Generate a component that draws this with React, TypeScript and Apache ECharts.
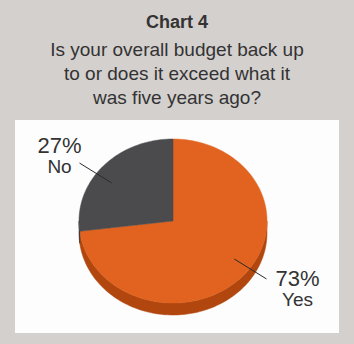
import React, { useEffect, useRef } from "react";
import * as echarts from "echarts";

// ---- data ----
const categories: string[] = ["Yes", "No"];
const values: number[] = [73, 27];
const percentLabels: string[] = ["73%", "27%"];
const titleText = "Chart 4";
const questionLines: string[] = [
  "Is your overall budget back up",
  "to or does it exceed what it",
  "was five years ago?",
];

// ---- styles ----
const topColors = ["#e1631f", "#4b4b4d"];
const sideColors = ["#b1470f", "#2f2f30"];
const BG = "#d3d0ce";
const TEXT = "#333333";
const FONT = '"Liberation Sans", Arial, sans-serif';

// geometry
const CX = 173;
const CY = 221;
const RX = 94;
const RY = 82;
const DEPTH = 12;
const START = 90;
const LABEL_ROT = 6;

const rad = (d: number) => (d * Math.PI) / 180;
const pt = (a: number, r: number, dy = 0): number[] => [
  CX + r * RX * Math.cos(rad(a)),
  CY - r * RY * Math.sin(rad(a)) + dy,
];

const arcPoints = (from: number, to: number, dy = 0): number[][] => {
  const n = Math.max(2, Math.ceil(Math.abs(to - from) / 2));
  const out: number[][] = [];
  for (let k = 0; k <= n; k++) {
    out.push(pt(from + ((to - from) * k) / n, 1, dy));
  }
  return out;
};

const renderItem = (params: any, api: any) => {
  const i = params.dataIndex;
  const total = values.reduce((s, v) => s + v, 0);
  const before = values.slice(0, i).reduce((s, v) => s + v, 0);
  const v = api.value(0);
  const a0 = START - (360 * before) / total;
  const a1 = a0 - (360 * v) / total;
  const children: any[] = [];

  // side (front half only: sin < 0)
  for (let k = -2; k <= 1; k++) {
    const lo = -180 + 360 * k;
    const hi = 360 * k;
    const b0 = Math.min(a0, hi);
    const b1 = Math.max(a1, lo);
    if (b0 > b1) {
      const topEdge = arcPoints(b0, b1, 0);
      const botEdge = arcPoints(b1, b0, DEPTH);
      children.push({
        type: "polygon",
        shape: { points: topEdge.concat(botEdge) },
        style: { fill: sideColors[i], stroke: sideColors[i], lineWidth: 0.5 },
      });
    }
  }

  // top face
  const face = [[CX, CY]].concat(arcPoints(a0, a1, 0));
  children.push({
    type: "polygon",
    shape: { points: face },
    style: { fill: topColors[i], stroke: topColors[i], lineWidth: 0.5 },
  });

  // leader line + labels
  const mid = (a0 + a1) / 2 + LABEL_ROT;
  const inner = pt(mid, 0.8);
  const outer = pt(mid, 1.22);
  const c = Math.cos(rad(mid));
  const s = Math.sin(rad(mid));
  children.push({
    type: "line",
    shape: { x1: inner[0], y1: inner[1], x2: outer[0], y2: outer[1] },
    style: { stroke: "#2a2a2a", lineWidth: 1 },
  });
  const bx = outer[0] + (c >= 0 ? 31 : -20);
  const by = outer[1] + (s >= 0 ? -8 : 10);
  children.push({
    type: "text",
    x: bx,
    y: by - 10,
    style: {
      text: percentLabels[i],
      fill: TEXT,
      font: `22px ${FONT}`,
      align: "center",
      verticalAlign: "middle",
    },
  });
  children.push({
    type: "text",
    x: bx,
    y: by + 11,
    style: {
      text: categories[i],
      fill: TEXT,
      font: `19px ${FONT}`,
      align: "center",
      verticalAlign: "middle",
    },
  });

  return { type: "group", children };
};

export default function App() {
  const ref = useRef<HTMLDivElement>(null);
  useEffect(() => {
    if (!ref.current) return;
    const chart = echarts.init(ref.current, undefined, { renderer: "svg" });
    chart.setOption({
      animation: false,
      backgroundColor: BG,
      graphic: [
        {
          type: "rect",
          shape: { x: 15, y: 120, width: 324, height: 213 },
          style: { fill: "#fdfdfd" },
          z: -10,
        },
        {
          type: "text",
          x: 177,
          y: 13,
          style: {
            text: titleText,
            fill: TEXT,
            font: `bold 18px ${FONT}`,
            align: "center",
            verticalAlign: "top",
          },
        },
        {
          type: "text",
          x: 177,
          y: 37,
          style: {
            text: questionLines.join("\n"),
            fill: TEXT,
            font: `19px ${FONT}`,
            lineHeight: 24,
            align: "center",
            verticalAlign: "top",
          },
        },
      ],
      series: [
        {
          type: "custom",
          coordinateSystem: "none",
          renderItem,
          data: values.map((v, i) => ({ value: v, name: categories[i] })),
        },
      ],
    });
    return () => chart.dispose();
  }, []);
  return (
    <div
      ref={ref}
      style={{ position: "fixed", left: 0, top: 0, width: 354, height: 344 }}
    />
  );
}
